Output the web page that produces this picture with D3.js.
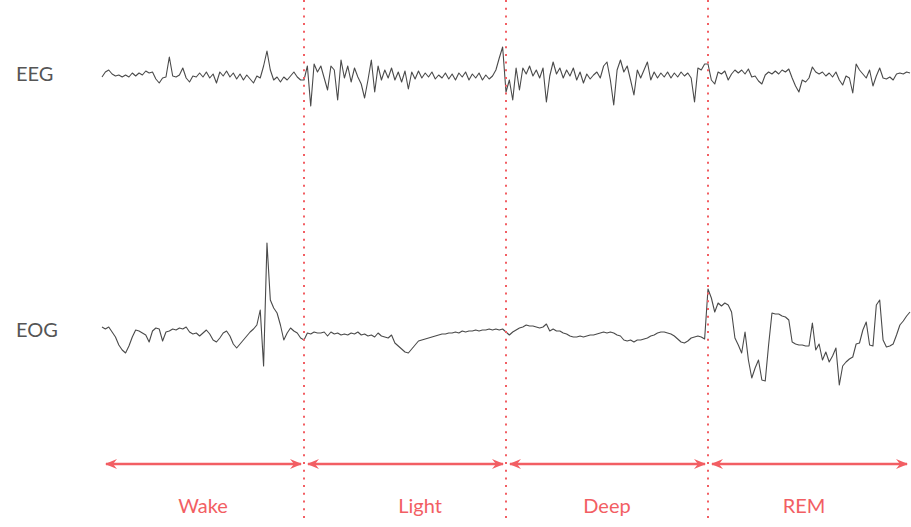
<!DOCTYPE html>
<html>
<head>
<meta charset="utf-8">
<script src="https://cdn.jsdelivr.net/npm/d3@7"></script>
<style>
  body { margin: 0; background: #fff; }
  svg { display: block; font-family: Lato, "Open Sans", sans-serif; }
</style>
</head>
<body>
<svg width="911" height="527"></svg>
<script>
// sleep stages, one 30 s epoch each
var stages = ["Wake", "Light", "Deep", "REM"];
var epochSeconds = 30;
var sampleStep = 0.5; // seconds between samples

// EEG trace (arbitrary units, + is up)
var eegValues = [
  -3, 2, 4, 0, -2, -1, -3, -1, -3, 1, -2, 1, -1, 3, 1, 2, -5, -9, -4, -3,
  17, -2, -3, -1, 6, -4, -8, -2, -3, 1, -3, 2, -4, 0, -9, 2, -2, 3, -3, 1,
  -5, 0, -6, -1, -5, -9, -2, -4, 8, 23, 4, -6, -3, -8, -3, -6, -2, 2, -3, -6,
  -6, 8, -32, 10, 2, 8, -4, -16, 8, 4, -26, 14, -4, 8, -8, 6, -3, -10, -24, -6,
  14, -18, 8, -6, 4, -4, 6, -6, 2, -8, 3, -15, 2, -5, 3, -4, 1, -3, 2, -5,
  -1, -4, 1, -5, 0, -6, 1, -3, 2, -6, 0, -4, 1, -6, -1, -5, -2, 4, 16, 27,
  -18, -6, -26, 6, -16, 6, 0, 8, -2, 4, -4, 6, -28, -2, 12, 0, 6, -4, 4, -2,
  6, -6, 2, -9, 0, -5, -1, 2, -4, 8, 12, -6, -31, 4, 14, 2, 8, -6, -21, 4,
  -4, 4, 12, -6, 2, -4, 1, -3, 2, -4, 1, -3, 2, -2, 1, -4, -28, 6, 4, 10,
  10, -6, -10, 2, 0, 3, -6, 0, 4, 1, 4, 0, 5, -3, -2, -7, -10, -1, 2, 0,
  3, 0, 4, 2, 5, -4, -12, -18, -6, -8, -4, 7, 2, 0, 2, -2, 1, -3, 2, -6,
  -11, -2, -4, -19, 10, 4, 0, -4, 4, -12, -2, 6, -4, -5, -3, -6, 0, 1, 0, 2,
  1
];

// EOG trace (arbitrary units, + is up)
var eogValues = [
  3, 1, 3, -2, -7, -15, -20, -23, -16, -7, 0, -1, -3, -5, -12, -1, 2, 1, -11, -2,
  -1, 1, 0, 2, 1, 3, -2, -4, -3, -6, -3, 0, -4, -10, -12, -8, -3, -1, -6, -14,
  -18, -14, -10, -6, -2, 1, 5, 20, -36, 87, 30, 22, 17, 5, -10, -3, 2, -1, -3, -8,
  -10, -3, -4, -2, -3, -3, -2, -6, -2, -4, -3, -5, -4, -5, -3, -4, -2, -5, -4, -6,
  -5, -7, -3, -6, -7, -8, -5, -13, -16, -19, -22, -23, -19, -15, -11, -10, -9, -8, -7, -6,
  -5, -4, -4, -3, -3, -2, -3, -1, -2, -1, -1, 0, -1, 0, 0, 1, 0, 1, 0, 1,
  -2, -5, -2, 0, 2, 3, 5, 4, 4, 3, 2, 3, 6, -1, 1, -1, -1, -3, -4, -6,
  -7, -7, -6, -7, -6, -5, -5, -4, -3, -2, -3, -2, -3, -5, -6, -10, -11, -10, -12, -10,
  -10, -9, -8, -6, -5, -3, -2, -2, -3, -4, -6, -9, -12, -13, -11, -8, -7, -6, -7, -9,
  41, 32, 18, 27, 24, 27, 25, 18, -8, -15, -23, -2, -30, -48, -38, -30, -50, -51, -15, 17,
  16, 16, 14, 13, 10, -12, -14, -15, -15, -16, -16, 7, -20, -14, -30, -22, -32, -26, -18, -55,
  -36, -32, -29, -27, -14, -13, 0, 8, -15, -16, 25, 30, -10, -17, -16, -14, -5, 5, 9, 14,
  18
];

var svg = d3.select("svg"),
    width = +svg.attr("width"),
    height = +svg.attr("height");

var red = "#f25e63",
    traceColor = "#4a4a4a";

// the stage names are not all dead centre in their epoch
var labelNudge = [0, 15, 0, -5];

var x = d3.scaleLinear()
    .domain([0, stages.length * epochSeconds])
    .range([102, 910]);

var channels = [
  {name: "EEG", values: eegValues, y: d3.scaleLinear().domain([-40, 40]).range([114, 34])},
  {name: "EOG", values: eogValues, y: d3.scaleLinear().domain([-100, 100]).range([430, 230])}
];

// arrow heads for the stage spans
svg.append("defs").append("marker")
    .attr("id", "stage-arrow")
    .attr("viewBox", "0 -5 12 10")
    .attr("refX", 11)
    .attr("markerUnits", "userSpaceOnUse")
    .attr("markerWidth", 12)
    .attr("markerHeight", 10)
    .attr("orient", "auto-start-reverse")
  .append("path")
    .attr("d", "M0,-5L12,0L0,5L4,0Z")
    .attr("fill", red);

// traces
channels.forEach(function(ch) {
  var line = d3.line()
      .x(function(d, i) { return x(i * sampleStep); })
      .y(function(d) { return ch.y(d); });

  svg.append("path")
      .datum(ch.values)
      .attr("d", line)
      .attr("fill", "none")
      .attr("stroke", traceColor)
      .attr("stroke-width", 1.1)
      .attr("stroke-linejoin", "round");

  svg.append("text")
      .attr("x", 16)
      .attr("y", ch.y(0) + 7)
      .attr("font-size", 20)
      .attr("fill", "#555")
      .text(ch.name);
});

// epoch borders
svg.append("g")
  .selectAll("line")
  .data(d3.range(1, stages.length))
  .enter().append("line")
    .attr("x1", function(d) { return x(d * epochSeconds); })
    .attr("x2", function(d) { return x(d * epochSeconds); })
    .attr("y1", 0)
    .attr("y2", 521)
    .attr("stroke", red)
    .attr("stroke-width", 2)
    .attr("stroke-dasharray", "2,5.7");

// stage spans + names
var stage = svg.append("g")
  .selectAll("g")
  .data(stages)
  .enter().append("g");

stage.append("line")
    .attr("x1", function(d, i) { return x(i * epochSeconds) + 4; })
    .attr("x2", function(d, i) { return x((i + 1) * epochSeconds) - 3; })
    .attr("y1", 464)
    .attr("y2", 464)
    .attr("stroke", red)
    .attr("stroke-width", 2.5)
    .attr("marker-start", "url(#stage-arrow)")
    .attr("marker-end", "url(#stage-arrow)");

stage.append("text")
    .attr("x", function(d, i) { return x((i + 0.5) * epochSeconds) + labelNudge[i]; })
    .attr("y", 513)
    .attr("text-anchor", "middle")
    .attr("font-size", 20)
    .attr("fill", red)
    .text(function(d) { return d; });
</script>
</body>
</html>
